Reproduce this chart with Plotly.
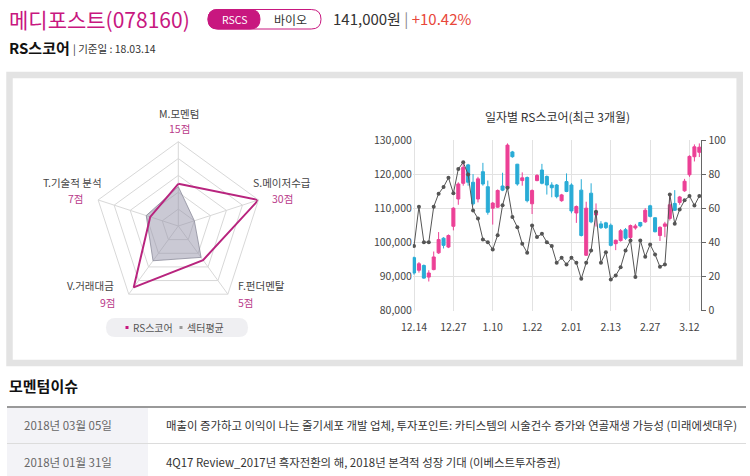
import plotly.graph_objects as go

# ---- data ----
radar_axes = ["M.모멘텀", "S.메이저수급", "F.펀더멘탈", "V.거래대금", "T.기술적 분석"]
radar_max = [30, 30, 10, 10, 20]
rs_score = [15, 30, 5, 9, 7]
sector_avg = [14, 6, 4.6, 5.1, 8]

dates = ["12.14", "12.15", "12.18", "12.19", "12.20", "12.21", "12.22", "12.26", "12.27", "12.28",
         "1.02", "1.03", "1.04", "1.05", "1.08", "1.09", "1.10", "1.11", "1.12", "1.15", "1.16",
         "1.17", "1.18", "1.19", "1.22", "1.23", "1.24", "1.25", "1.26", "1.29", "1.30", "1.31",
         "2.01", "2.02", "2.05", "2.06", "2.07", "2.08", "2.09", "2.12", "2.13", "2.14", "2.19",
         "2.20", "2.21", "2.22", "2.23", "2.26", "2.27", "2.28",
         "3.02", "3.05", "3.06", "3.07", "3.08", "3.09", "3.12", "3.13", "3.14"]
date_ticks = ["12.14", "12.27", "1.10", "1.22", "2.01", "2.13", "2.27", "3.12"]

open_ = [95500, 91800, 93200, 89800, 92000, 96900, 101200, 98600, 104700, 112700,
         117300, 122700, 117600, 112700, 120700, 116300, 110000, 110300, 116500, 115900,
         126500, 122900, 118100, 119000, 111300, 118100, 121200, 119300, 116800, 116800,
         112200, 117800, 116800, 108600, 115300, 96200, 114400, 108000, 105400, 105700,
         105000, 99600, 100500, 103700, 101400, 104200, 105800, 106000, 110700, 107200,
         102000, 104700, 107000, 111400, 111700, 115100, 119800, 125100, 126400]
high = [95800, 94200, 93500, 91800, 97300, 103000, 101500, 102300, 110300, 117600,
        123000, 123000, 120000, 119200, 123300, 118100, 111800, 115500, 120400, 129000,
        126800, 123000, 120500, 119300, 115500, 120000, 123000, 119600, 117600, 117100,
        114200, 120200, 117300, 110800, 118500, 111900, 117300, 111400, 106200, 106000,
        105500, 100800, 103900, 104200, 105200, 105400, 106000, 110000, 111000, 107400,
        104700, 106000, 114000, 115300, 113600, 118600, 125500, 128700, 129000]
low = [90500, 91100, 89300, 88500, 91800, 96600, 98200, 98300, 103500, 111000,
       116600, 116600, 110800, 111700, 116600, 108100, 105200, 110100, 115000, 115700,
       124800, 116600, 116600, 111700, 108300, 117900, 117000, 114000, 113200, 112900,
       111900, 114700, 108500, 105700, 101700, 96000, 105600, 104600, 103900, 103900,
       98800, 97700, 100200, 100700, 100800, 103700, 104400, 105700, 107300, 102900,
       100400, 101500, 106400, 109200, 111000, 114800, 119200, 123700, 125000]
close = [91000, 93700, 89500, 91000, 95700, 100800, 99100, 102000, 110000, 117100,
         122000, 117600, 111300, 118600, 117100, 108800, 111500, 115200, 115300, 128500,
         125100, 117100, 118900, 112200, 115200, 119600, 117300, 116800, 116000, 113400,
         113900, 114900, 109200, 110500, 102000, 110000, 106000, 109000, 104300, 104300,
         99100, 100600, 103400, 101200, 104900, 104800, 104800, 109400, 107600, 103100,
         104400, 105400, 111000, 109400, 113300, 117900, 125200, 128000, 127900]
rs_daily = [37.8, 60.9, 40.1, 40.1, 60.9, 68.5, 72.4, 77.9, 68.7, 83.0,
            86.9, 79.8, 58.7, 54.0, 41.7, 40.1, 35.8, 44.2, 61.8, 72.0,
            54.8, 48.9, 39.1, 33.9, 49.9, 43.1, 45.0, 40.1, 37.8, 28.0,
            30.9, 27.0, 30.9, 28.0, 18.6, 28.0, 35.2, 57.9, 28.0, 34.2,
            18.2, 20.5, 25.4, 35.2, 41.1, 19.6, 41.1, 31.5, 38.7, 32.9,
            25.6, 27.0, 68.1, 50.9, 59.3, 64.6, 67.1, 61.6, 67.1]

legend_names = ["RS스코어", "섹터평균"]
news_dates = ["2018년 03월 05일", "2018년 01월 31일"]
news_titles = ["매출이 증가하고 이익이 나는 줄기세포 개발 업체, 투자포인트: 카티스템의 시술건수 증가와 연골재생 가능성 (미래에셋대우)",
               "4Q17 Review_2017년 흑자전환의 해, 2018년 본격적 성장 기대 (이베스트투자증권)"]

MAGENTA = "#c8177f"
PINK = "#ec4096"
BLUE = "#29acd6"
FONT = "Noto Sans CJK KR"

W, H = 750, 476


def px(x):
    return x / W


def py(y):
    return 1 - y / H


def rrect(x0, y0, x1, y1, r):
    return (f"M {px(x0 + r)},{py(y0)} L {px(x1 - r)},{py(y0)} "
            f"Q {px(x1)},{py(y0)} {px(x1)},{py(y0 + r)} L {px(x1)},{py(y1 - r)} "
            f"Q {px(x1)},{py(y1)} {px(x1 - r)},{py(y1)} L {px(x0 + r)},{py(y1)} "
            f"Q {px(x0)},{py(y1)} {px(x0)},{py(y1 - r)} L {px(x0)},{py(y0 + r)} "
            f"Q {px(x0)},{py(y0)} {px(x0 + r)},{py(y0)} Z")


def text(x, y, s, size=11, color="#333", anchor="center", **kw):
    return dict(x=px(x), y=py(y), xref="paper", yref="paper", text=s, showarrow=False,
                xanchor=anchor, yanchor="middle", font=dict(size=size, color=color, family=FONT), **kw)


def box(x0, y0, x1, y1, color, layer="above"):
    return dict(type="rect", xref="paper", yref="paper", x0=px(x0), x1=px(x1), y0=py(y0), y1=py(y1),
                line=dict(width=0), fillcolor=color, layer=layer)


rs_norm = [v / m for v, m in zip(rs_score, radar_max)]
sec_norm = [v / m for v, m in zip(sector_avg, radar_max)]

fig = go.Figure()

# radar
fig.add_trace(go.Scatterpolar(r=sec_norm + sec_norm[:1], theta=radar_axes + radar_axes[:1],
                              mode="lines", fill="toself", fillcolor="rgba(150,148,170,0.5)",
                              line=dict(color="rgba(140,140,155,0.8)", width=1), showlegend=False))
fig.add_trace(go.Scatterpolar(r=rs_norm + rs_norm[:1], theta=radar_axes + radar_axes[:1],
                              mode="lines", line=dict(color="#b8247e", width=2), showlegend=False))

# candles + RS line
fig.add_trace(go.Candlestick(x=dates, open=open_, high=high, low=low, close=close,
                             increasing=dict(line=dict(color=PINK, width=1), fillcolor=PINK),
                             decreasing=dict(line=dict(color=BLUE, width=1), fillcolor=BLUE),
                             whiskerwidth=0, showlegend=False))
fig.add_trace(go.Scatter(x=dates, y=rs_daily, yaxis="y2", mode="lines+markers",
                         line=dict(color="#555", width=1), marker=dict(size=4, color="#555"),
                         showlegend=False))

cx, cy, rad = 178.3, 226, 84.3

fig.update_layout(
    template="none",
    width=W, height=H, margin=dict(l=0, r=0, t=0, b=0, pad=0, autoexpand=False),
    paper_bgcolor="white", plot_bgcolor="white", showlegend=False,
    font=dict(family=FONT, size=11, color="#444"),
    boxgap=0.12,
    polar=dict(
        domain=dict(x=[px(cx - rad), px(cx + rad)], y=[py(cy + rad), py(cy - rad)]),
        gridshape="linear", bgcolor="white",
        angularaxis=dict(rotation=90, direction="clockwise", showticklabels=False, ticks="",
                         linecolor="#d8d8d8", gridcolor="#d8d8d8"),
        radialaxis=dict(range=[0, 1], tickvals=[0.2, 0.4, 0.6, 0.8, 1.0], showticklabels=False,
                        ticks="", showline=False, gridcolor="#d8d8d8"),
    ),
    xaxis=dict(type="category", domain=[px(412.8), px(701.3)], range=[-0.25, 58.4],
               tickvals=date_ticks, ticktext=date_ticks, showgrid=True, gridcolor="#e2e2e2",
               rangeslider=dict(visible=False), showline=False, zeroline=False, ticks="",
               automargin=False, tickfont=dict(size=10.5, color="#444"), ticklabelstandoff=9),
    yaxis=dict(domain=[py(310.5), py(140)], range=[80000, 130000], dtick=10000, tickformat=",",
               showgrid=True, gridcolor="#e2e2e2", zeroline=False, showline=False, ticks="",
               automargin=False, tickfont=dict(size=10.5, color="#444")),
    yaxis2=dict(overlaying="y", side="right", range=[0, 100], dtick=20, showgrid=False,
                showline=True, linecolor="#666", ticks="outside", ticklen=4, tickcolor="#666",
                automargin=False, zeroline=False, tickfont=dict(size=10.5, color="#444")),
)

shapes = [
    # main gray frame
    dict(type="rect", xref="paper", yref="paper", x0=px(9.5), x1=px(739.7), y0=py(75), y1=py(363),
         line=dict(color="#e3e3e3", width=6.5), layer="below"),
    # pill
    dict(type="path", xref="paper", yref="paper", path=rrect(208, 9.5, 321, 29, 9.75),
         line=dict(color=MAGENTA, width=1), fillcolor="white"),
    dict(type="path", xref="paper", yref="paper", path=rrect(208, 9.5, 260, 29, 9.75),
         line=dict(color=MAGENTA, width=1), fillcolor=MAGENTA),
    # legend pill under radar
    dict(type="path", xref="paper", yref="paper", path=rrect(106, 318, 248, 337, 9.5),
         line=dict(width=0), fillcolor="#efeff2", layer="below"),
    box(125.5, 326, 128.5, 329, MAGENTA),
    box(179.5, 326, 182.5, 329, "#999"),
    # news table
    box(7, 408, 148, 480, "#f3f3f7", layer="below"),
    dict(type="line", xref="paper", yref="paper", x0=px(7), x1=px(746), y0=py(407), y1=py(407),
         line=dict(color="#777", width=1.5)),
    dict(type="line", xref="paper", yref="paper", x0=px(7), x1=px(746), y0=py(443.5), y1=py(443.5),
         line=dict(color="#dcdcdc", width=1)),
]

ann = [
    text(7, 19, "메디포스트(078160)", size=21, color=MAGENTA, anchor="left"),
    text(234, 19.5, "RSCS", size=10.5, color="white"),
    text(290, 19.5, "바이오", size=12, color="#333"),
    text(331, 19, "141,000원 <span style='color:#888'>|</span> <span style='color:#e8473a'>+10.42%</span>",
         size=15, color="#333", anchor="left"),
    text(7, 48, "<b>RS스코어</b>", size=15, color="#111", anchor="left"),
    text(71, 49, "| 기준일 : 18.03.14", size=10.5, color="#333", anchor="left"),
    text(557, 116, "일자별 RS스코어(최근 3개월)", size=12, color="#333"),
    text(131, 327.5, legend_names[0], size=10, color="#555", anchor="left"),
    text(185, 327.5, legend_names[1], size=10, color="#555", anchor="left"),
    text(7, 385, "<b>모멘텀이슈</b>", size=15, color="#111", anchor="left"),
]

# radar labels
label_pos = [(179, 113, 129), (282, 183, 198), (261, 285, 302), (90, 285, 302), (72, 183, 198)]
score_x = [179, 282, 246, 108, 76]
for name, sc, (lx, ly, sy), sx in zip(radar_axes, rs_score, label_pos, score_x):
    ann.append(text(lx, ly, name, size=10.5, color="#444"))
    ann.append(text(sx, sy, f"{sc}점", size=10.5, color="#b93a8a"))

for i, (d, t) in enumerate(zip(news_dates, news_titles)):
    yy = 425 + i * 37
    ann.append(text(68, yy, d, size=11.5, color="#666"))
    ann.append(text(164, yy, t, size=11.4, color="#333", anchor="left"))

fig.update_layout(shapes=shapes, annotations=ann)

fig.write_html("out.html", config={"displayModeBar": False},
               post_script="document.body.style.margin='0';document.body.style.overflow='hidden';")
